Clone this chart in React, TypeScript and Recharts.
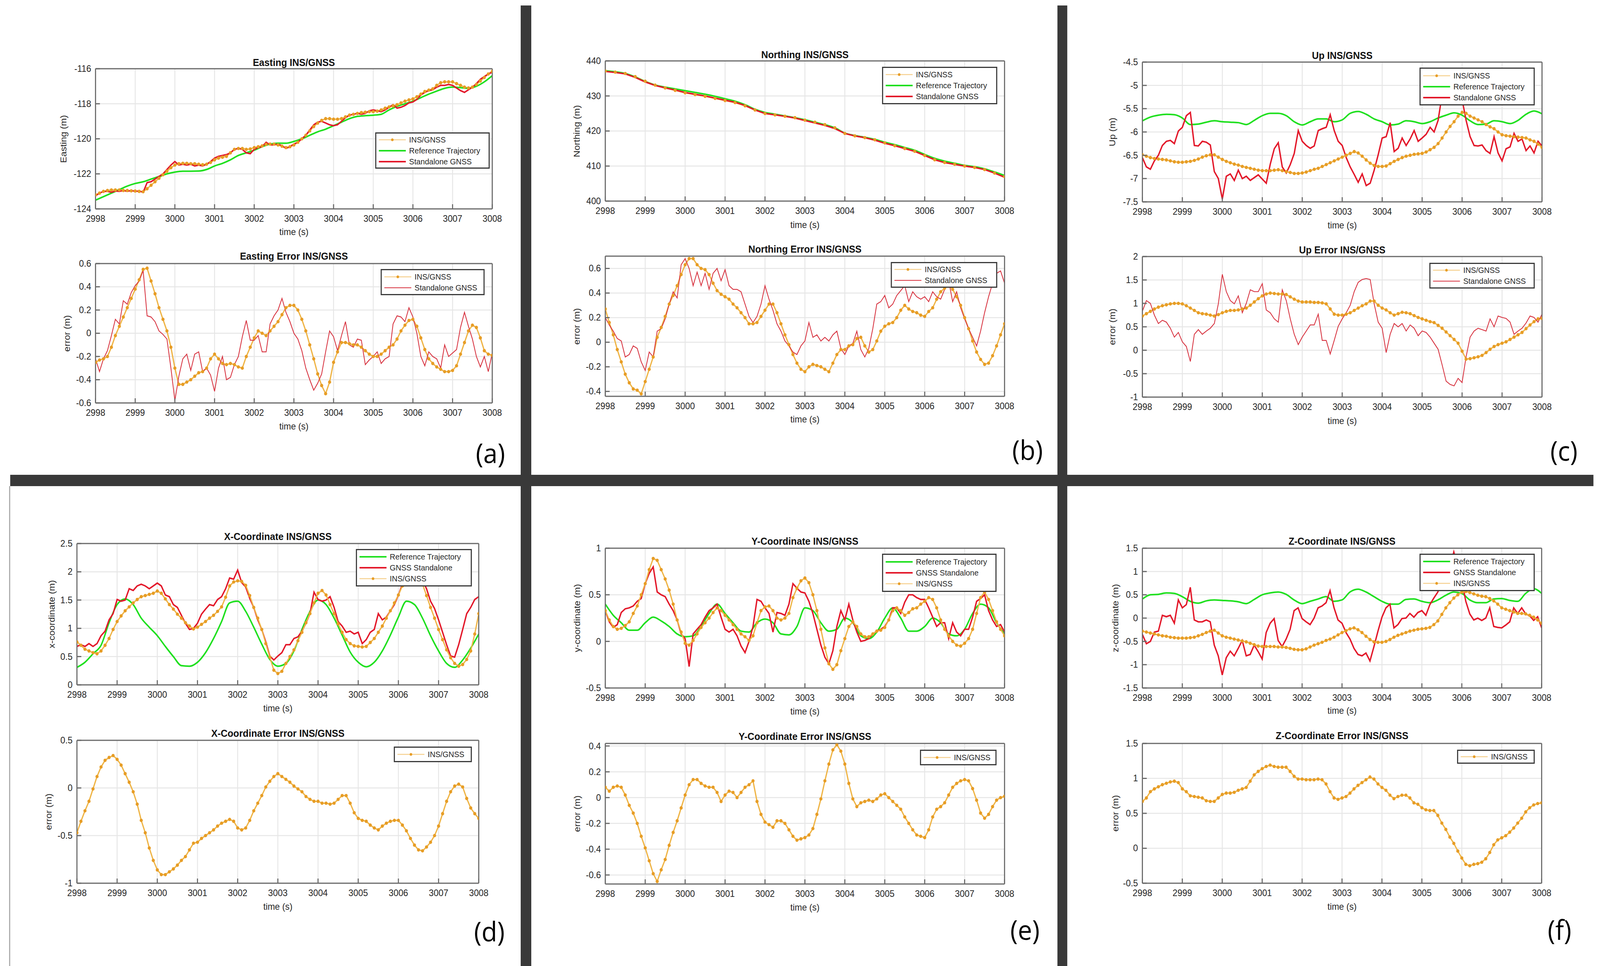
import React from 'react'
import { LineChart, Line, XAxis, YAxis, CartesianGrid } from 'recharts'

const FONT = '"Liberation Sans", Arial, Helvetica, sans-serif'
const AXIS = '#6a6a6a'
const TEXT = '#262626'
const GRID = '#e6e6e6'
const GREEN = '#1fe01f'
const RED = '#e3182a'
const RED_THIN = '#d7323f'
const ORANGE_LINE = '#efb548'
const ORANGE_DOT = '#e79d26'
const BAR = '#393939'

// the figure is laid out at 4388x2474 and scaled to whatever the window really is
const FIG_W = 4388
const FIG_H = 2474

// time grids (s)
const T10 = Array.from({ length: 101 }, (_, i) => Math.round((2998 + i * 0.1) * 10) / 10)
const T5 = Array.from({ length: 51 }, (_, i) => Math.round((2998 + i * 0.2) * 10) / 10)
const T4 = Array.from({ length: 41 }, (_, i) => 2998 + i * 0.25)
const T_TICKS = [2998, 2999, 3000, 3001, 3002, 3003, 3004, 3005, 3006, 3007, 3008]

// --- (a) Easting ---
const aTopIns = [
  -123.2, -123.1, -123.0, -122.95, -122.92, -122.92, -122.92, -122.95, -122.95, -122.97,
  -122.98, -123.0, -123.02, -122.85, -122.65, -122.45, -122.25, -122.05, -121.85, -121.65,
  -121.5, -121.42, -121.4, -121.4, -121.42, -121.42, -121.45, -121.48, -121.45, -121.35,
  -121.2, -121.1, -121.05, -121.0, -120.8, -120.6, -120.55, -120.55, -120.6, -120.58,
  -120.5, -120.45, -120.4, -120.32, -120.3, -120.3, -120.35, -120.42, -120.5, -120.45,
  -120.35, -120.2, -120.0, -119.8, -119.55, -119.3, -119.1, -118.95, -118.85, -118.85,
  -118.88, -118.88, -118.85, -118.75, -118.65, -118.6, -118.55, -118.5, -118.48, -118.45,
  -118.45, -118.42, -118.35, -118.25, -118.18, -118.12, -118.05, -117.95, -117.85, -117.78,
  -117.72, -117.6, -117.45, -117.3, -117.22, -117.15, -116.95, -116.8, -116.75, -116.75,
  -116.75, -116.85, -116.95, -117.05, -117.1, -117.05, -116.9, -116.7, -116.5, -116.3,
  -116.15,
]
const aTopGnss = [
  -123.25, -123.1, -123.0, -123.0, -123.05, -122.98, -123.0, -122.95, -123.0, -122.95,
  -123.0, -122.98, -123.05, -122.5, -122.45, -122.3, -122.15, -122.0, -121.75, -121.5,
  -121.3, -121.5, -121.45, -121.5, -121.45, -121.55, -121.5, -121.55, -121.45, -121.3,
  -121.1, -121.0, -120.95, -120.9, -120.8, -120.6, -120.55, -120.6, -120.8, -120.85,
  -120.6, -120.5, -120.45, -120.2, -120.35, -120.35, -120.3, -120.4, -120.55, -120.45,
  -120.3, -120.2, -120.0, -119.8, -119.5, -119.2, -119.05, -119.0, -119.1, -119.2,
  -119.25, -119.2, -119.0, -118.8, -118.65, -118.6, -118.55, -118.6, -118.55, -118.4,
  -118.35, -118.4, -118.45, -118.35, -118.2, -118.05, -118.25, -118.2, -118.1, -117.95,
  -117.9, -117.75, -117.5, -117.35, -117.25, -117.2, -117.05, -116.95, -116.95, -116.9,
  -116.95, -117.1, -117.25, -117.35, -117.2, -117.05, -116.85, -116.6, -116.45, -116.3,
  -116.2,
]
const aTopRef = [
  -123.5, -123.3, -123.1, -122.9, -122.7, -122.55, -122.45, -122.3, -122.15, -122.0,
  -121.9, -121.85, -121.85, -121.84, -121.75, -121.55, -121.4, -121.2, -120.95, -120.8,
  -120.65, -120.45, -120.3, -120.25, -120.25, -120.15, -120.0, -119.8, -119.6, -119.45,
  -119.25, -119.05, -118.85, -118.72, -118.68, -118.65, -118.6, -118.35, -118.15, -118.0,
  -117.85, -117.65, -117.45, -117.28, -117.12, -117.05, -117.08, -117.12, -117.0, -116.75,
  -116.4,
]
const aErrIns = [
  -0.25, -0.23, -0.22, -0.2, -0.12, -0.02, 0.06, 0.14, 0.22, 0.3,
  0.38, 0.46, 0.55, 0.56, 0.45, 0.34, 0.22, 0.12, 0.02, -0.12,
  -0.3, -0.44, -0.44, -0.42, -0.4, -0.37, -0.34, -0.33, -0.3, -0.22,
  -0.18, -0.22, -0.26, -0.27, -0.26, -0.27, -0.29, -0.3, -0.2, -0.12,
  -0.04, 0.02, 0.0, -0.02, 0.02, 0.06, 0.1, 0.16, 0.22, 0.24,
  0.24, 0.2, 0.12, 0.02, -0.1, -0.22, -0.35, -0.45, -0.52, -0.42,
  -0.25, -0.16, -0.08, -0.08, -0.09, -0.1, -0.1, -0.12, -0.15, -0.18,
  -0.2, -0.2, -0.18, -0.15, -0.12, -0.1, -0.05, 0.02, 0.07, 0.11,
  0.12, 0.06, -0.04, -0.14, -0.22, -0.26, -0.29, -0.31, -0.33, -0.33,
  -0.32, -0.28, -0.18, -0.08, 0.02, 0.07, 0.05, -0.04, -0.15, -0.18,
  -0.19,
]
const aErrGnss = [
  -0.22, -0.33, -0.22, -0.15, -0.02, 0.12, 0.08, 0.28, 0.25, 0.35,
  0.41, 0.45, 0.54, 0.15, 0.14, 0.1, 0.02, -0.01, -0.05, -0.3,
  -0.58, -0.37, -0.22, -0.18, -0.32, -0.18, -0.16, -0.33, -0.3, -0.36,
  -0.5, -0.3, -0.2, -0.4, -0.38, -0.27, -0.2, -0.03, 0.11, -0.06,
  -0.06, -0.02, -0.16, -0.16, 0.08, 0.15, 0.2, 0.3, 0.18, 0.1,
  0.0, -0.05, -0.15, -0.3, -0.4, -0.49, -0.43, -0.35, -0.16, 0.02,
  -0.03, -0.15, -0.02, 0.1, -0.1, -0.12, -0.05, -0.06, -0.27, -0.23,
  -0.2, -0.16, -0.26, -0.22, -0.2, 0.08, 0.15, 0.14, 0.1, 0.22,
  0.14, 0.0, -0.2, -0.28, -0.16, -0.2, -0.22, -0.3, -0.1, -0.2,
  -0.17, -0.14, 0.05, 0.18, 0.06, -0.05, -0.2, -0.29, -0.2, -0.33,
  -0.17,
]

// --- (b) Northing ---
const bTopIns = [
  437.1, 436.8, 436.4, 435.5, 434.2, 433.1, 432.3, 431.6, 430.9, 430.4,
  429.9, 429.3, 428.7, 428.1, 427.2, 426.0, 425.0, 424.6, 424.2, 423.8,
  423.1, 422.5, 421.8, 420.9, 419.3, 418.6, 418.1, 417.5, 416.6, 415.8,
  415.0, 414.2, 413.0, 411.8, 411.0, 410.5, 410.0, 409.6, 409.0, 408.0,
  407.0,
]
const bTopRef = [
  437.2, 436.9, 436.4, 435.4, 434.1, 433.1, 432.5, 432.0, 431.5, 431.0,
  430.5, 429.9, 429.2, 428.5, 427.5, 426.2, 425.3, 424.8, 424.3, 423.8,
  423.2, 422.5, 421.8, 420.9, 419.4, 418.7, 418.2, 417.6, 416.8, 416.1,
  415.3, 414.5, 413.3, 412.2, 411.4, 410.8, 410.2, 409.8, 409.2, 408.3,
  407.3,
]
const bTopGnss = [
  437.0, 436.7, 436.3, 435.3, 434.0, 433.0, 432.3, 431.7, 431.0, 430.5,
  430.0, 429.4, 428.8, 428.2, 427.3, 426.0, 425.0, 424.6, 424.2, 423.7,
  423.0, 422.3, 421.6, 420.7, 419.3, 418.6, 418.1, 417.4, 416.5, 415.8,
  415.0, 414.2, 413.0, 411.8, 411.0, 410.5, 410.0, 409.6, 409.0, 408.0,
  406.8,
]
const bErrIns = [
  0.27, 0.16, 0.06, -0.06, -0.16, -0.26, -0.33, -0.38, -0.39, -0.42,
  -0.32, -0.22, -0.12, 0.04, 0.12, 0.21, 0.31, 0.38, 0.46, 0.55,
  0.63, 0.68, 0.68, 0.63, 0.6, 0.59, 0.55, 0.48, 0.42, 0.39,
  0.37, 0.35, 0.31, 0.28, 0.24, 0.2, 0.15, 0.15, 0.16, 0.21,
  0.26, 0.31, 0.31, 0.24, 0.15, 0.06, -0.02, -0.1, -0.17, -0.22,
  -0.24, -0.2, -0.18, -0.19, -0.2, -0.22, -0.24, -0.17, -0.1, -0.06,
  -0.06, -0.03, -0.02, 0.03, 0.04, -0.03, -0.08, -0.06, 0.01, 0.09,
  0.13, 0.15, 0.16, 0.2, 0.26, 0.3, 0.27, 0.25, 0.24, 0.22,
  0.21, 0.25, 0.28, 0.35, 0.41, 0.44, 0.46, 0.43, 0.37, 0.3,
  0.2, 0.11, 0.01, -0.08, -0.14, -0.18, -0.17, -0.11, -0.03, 0.06,
  0.15,
]
const bErrGnss = [
  0.2, 0.14, 0.09, 0.03, 0.01, -0.12, -0.1, -0.03, -0.05, -0.16,
  -0.23, -0.08, -0.12, 0.09, 0.11, 0.19, 0.31, 0.41, 0.36, 0.63,
  0.68, 0.6, 0.46, 0.57, 0.46, 0.56, 0.43, 0.56, 0.6, 0.5,
  0.59, 0.46, 0.43, 0.43, 0.41, 0.31, 0.21, 0.16, 0.21, 0.31,
  0.46, 0.35, 0.26, 0.15, 0.09, 0.01, -0.03, -0.08, -0.1, -0.03,
  0.01, 0.16, 0.04, 0.06, 0.01, 0.04, 0.01, 0.06, 0.09, -0.05,
  -0.1, -0.03, -0.01, 0.09, -0.06, -0.12, -0.05, 0.11, 0.31, 0.33,
  0.38, 0.28, 0.31, 0.38, 0.42, 0.46, 0.33, 0.41, 0.37, 0.35,
  0.37, 0.33, 0.41, 0.37, 0.35, 0.43, 0.5, 0.33, 0.41, 0.28,
  0.19, 0.11, 0.04, -0.03, 0.09, 0.24, 0.37, 0.48, 0.56, 0.58,
  0.48,
]

// --- (c) Up ---
const cTopIns = [
  -6.49, -6.52, -6.55, -6.57, -6.58, -6.59, -6.6, -6.62, -6.64, -6.65,
  -6.65, -6.64, -6.63, -6.61, -6.58, -6.54, -6.51, -6.49, -6.49, -6.54,
  -6.59, -6.63, -6.66, -6.69, -6.71, -6.74, -6.76, -6.78, -6.8, -6.82,
  -6.83, -6.83, -6.83, -6.82, -6.81, -6.83, -6.85, -6.87, -6.89, -6.89,
  -6.88, -6.86, -6.83, -6.8, -6.78, -6.74, -6.7, -6.66, -6.62, -6.58,
  -6.54, -6.5, -6.46, -6.42, -6.45, -6.52, -6.6, -6.67, -6.72, -6.74,
  -6.74, -6.73, -6.68, -6.63, -6.59, -6.55, -6.52, -6.5, -6.48, -6.47,
  -6.46, -6.43, -6.38, -6.33, -6.25, -6.13, -6.0, -5.88, -5.78, -5.66,
  -5.58, -5.6, -5.66, -5.7, -5.74, -5.78, -5.84, -5.89, -5.93, -6.0,
  -6.06, -6.08, -6.09, -6.1, -6.11, -6.12, -6.13, -6.17, -6.2, -6.26,
  -6.33,
]
const cTopRef = [
  -5.76, -5.68, -5.64, -5.62, -5.63, -5.7, -5.84, -5.83, -5.79, -5.76,
  -5.78, -5.79, -5.8, -5.84, -5.75, -5.65, -5.6, -5.6, -5.65, -5.78,
  -5.85, -5.78, -5.72, -5.72, -5.78, -5.74, -5.6, -5.56, -5.62, -5.72,
  -5.78, -5.85, -5.83, -5.76, -5.78, -5.82, -5.78, -5.7, -5.64, -5.59,
  -5.64, -5.76, -5.84, -5.83, -5.76, -5.78, -5.82, -5.75, -5.62, -5.55,
  -5.61,
]
const cTopGnss = [
  -6.55, -6.75, -6.8, -6.62, -6.5, -6.29, -6.2, -6.18, -6.25, -5.98,
  -5.9, -5.65, -5.58, -6.29, -6.3, -6.2, -6.22, -6.28, -6.85, -7.0,
  -7.44, -6.95, -6.9, -7.04, -6.82, -7.0, -6.95, -7.04, -6.98, -6.92,
  -7.01, -7.1, -6.69, -6.36, -6.23, -6.75, -6.88, -6.7, -6.46, -5.97,
  -6.2, -6.29, -6.35, -6.3, -5.97, -5.93, -5.9, -5.63, -5.97, -6.2,
  -6.29, -6.55, -6.75, -6.91, -7.08, -6.9, -7.15, -7.1, -6.82, -6.49,
  -6.13, -6.1, -5.8, -6.42, -6.35, -6.13, -6.29, -6.15, -5.97, -6.2,
  -6.13, -6.05, -5.9, -6.0, -5.75, -5.2, -5.0, -4.9, -5.0, -5.1,
  -5.3, -5.75, -6.1, -6.29, -6.3, -6.28, -6.4, -6.46, -6.1, -6.45,
  -6.62, -6.36, -6.32, -6.03, -6.2, -6.15, -6.4, -6.3, -6.45, -6.2,
  -6.3,
]
const cErrIns = [
  0.73, 0.78, 0.83, 0.88, 0.92, 0.95, 0.97, 0.99, 1.0, 1.0,
  0.99, 0.95, 0.9, 0.85, 0.8, 0.78, 0.77, 0.75, 0.73, 0.76,
  0.8, 0.83, 0.85, 0.85, 0.86, 0.88, 0.9, 0.96, 1.03, 1.1,
  1.16, 1.2, 1.22, 1.21, 1.2, 1.2, 1.19, 1.14, 1.09, 1.05,
  1.03, 1.03, 1.03, 1.02, 1.02, 1.01, 0.99, 0.88, 0.77, 0.75,
  0.75, 0.77, 0.8, 0.85, 0.9, 0.95, 0.99, 1.05, 1.05, 0.96,
  0.9, 0.86, 0.8, 0.75, 0.78, 0.81, 0.8, 0.78, 0.74, 0.7,
  0.67, 0.64, 0.61, 0.59, 0.53, 0.47, 0.39, 0.31, 0.23, 0.15,
  -0.02, -0.19, -0.18, -0.16, -0.14, -0.11, -0.05, 0.02, 0.08, 0.12,
  0.15, 0.18, 0.23, 0.28, 0.33, 0.38, 0.46, 0.54, 0.61, 0.67,
  0.68,
]
const cErrGnss = [
  0.83, 1.06, 1.0, 0.75, 0.57, 0.64, 0.6, 0.47, 0.28, 0.38,
  0.18, 0.08, -0.24, 0.34, 0.44, 0.34, 0.41, 0.47, 0.57, 0.99,
  1.62, 1.25, 1.06, 0.99, 1.16, 0.8, 1.0, 1.29, 1.25, 1.25,
  1.42, 0.86, 0.8, 0.67, 0.6, 1.29, 1.06, 0.67, 0.34, 0.12,
  0.28, 0.41, 0.54, 0.54, 0.77, 0.21, 0.21, -0.08, 0.21, 0.51,
  0.67, 0.8, 0.96, 1.25, 1.45, 1.51, 1.53, 1.51, 0.99, 0.6,
  0.47, -0.05, 0.34, 0.57, 0.5, 0.57, 0.41, 0.54, 0.47, 0.31,
  0.41, 0.38, 0.28, 0.15, 0.02, -0.31, -0.66, -0.73, -0.76, -0.6,
  -0.69, -0.14, 0.28, 0.41, 0.47, 0.44, 0.41, 0.67, 0.5, 0.73,
  0.7, 0.68, 0.6, 0.34, 0.41, 0.47, 0.58, 0.73, 0.7, 0.6,
  0.77,
]

// --- (d) X-Coordinate ---
const dTopRef = [
  0.31, 0.4, 0.55, 0.7, 1.1, 1.42, 1.52, 1.42, 1.18, 1.02,
  0.87, 0.68, 0.5, 0.34, 0.33, 0.4, 0.57, 0.82, 1.12, 1.45,
  1.48, 1.3, 1.02, 0.72, 0.45, 0.33, 0.38, 0.6, 0.98, 1.3,
  1.5, 1.42, 1.18, 0.88, 0.58, 0.4, 0.32, 0.4, 0.6, 0.88,
  1.2, 1.48, 1.42, 1.18, 0.87, 0.6, 0.38, 0.31, 0.44, 0.65,
  0.9,
]
const dTopGnss = [
  0.68, 0.71, 0.68, 0.73, 0.68, 0.73, 0.87, 0.95, 1.15, 1.26,
  1.51, 1.48, 1.5, 1.7, 1.67, 1.75, 1.78, 1.75, 1.7, 1.75,
  1.8, 1.75, 1.59, 1.56, 1.42, 1.37, 1.23, 1.09, 0.98, 1.0,
  1.09, 1.25, 1.34, 1.42, 1.4, 1.51, 1.56, 1.7, 1.89, 1.87,
  2.03, 1.81, 1.73, 1.53, 1.37, 1.15, 0.98, 0.76, 0.51, 0.44,
  0.51, 0.57, 0.71, 0.71, 0.82, 0.85, 0.95, 1.09, 1.26, 1.64,
  1.51, 1.48, 1.5, 1.56, 1.37, 1.12, 1.04, 0.93, 0.95, 0.9,
  0.93, 0.73, 0.8, 0.93, 0.98, 1.26, 1.15, 1.2, 1.31, 1.42,
  1.59, 1.78, 1.95, 2.05, 2.1, 2.0, 1.85, 1.7, 1.48, 1.35,
  1.15, 0.93, 0.71, 0.51, 0.49, 0.71, 0.98, 1.26, 1.37, 1.51,
  1.56,
]
const dTopIns = [
  0.76, 0.7, 0.63, 0.6, 0.57, 0.55, 0.6, 0.7, 0.82, 0.98,
  1.12, 1.22, 1.31, 1.38, 1.45, 1.51, 1.56, 1.58, 1.6, 1.62,
  1.66, 1.62, 1.52, 1.42, 1.34, 1.25, 1.18, 1.1, 1.04, 0.99,
  1.02, 1.07, 1.12, 1.18, 1.23, 1.3, 1.38, 1.55, 1.75, 1.82,
  1.84, 1.83, 1.76, 1.58, 1.37, 1.18, 0.98, 0.73, 0.49, 0.26,
  0.2, 0.24, 0.38, 0.5, 0.62, 0.78, 0.93, 1.1, 1.26, 1.45,
  1.62, 1.67, 1.59, 1.42, 1.26, 1.08, 0.93, 0.8, 0.73, 0.69,
  0.68, 0.67, 0.68, 0.75, 0.82, 0.93, 1.04, 1.18, 1.31, 1.45,
  1.59, 1.75, 1.9, 1.98, 2.0, 1.92, 1.78, 1.58, 1.37, 1.18,
  0.98, 0.8, 0.62, 0.48, 0.38, 0.33, 0.36, 0.45, 0.6, 0.9,
  1.26,
]
const dErrIns = [
  -0.47, -0.35, -0.24, -0.14, -0.01, 0.12, 0.22, 0.29, 0.32, 0.34,
  0.3, 0.24, 0.15, 0.06, -0.04, -0.17, -0.34, -0.47, -0.63, -0.76,
  -0.86, -0.91, -0.91, -0.88, -0.85, -0.81, -0.76, -0.72, -0.65, -0.58,
  -0.57, -0.53, -0.5, -0.47, -0.44, -0.4, -0.37, -0.35, -0.33, -0.35,
  -0.42, -0.44, -0.42, -0.34, -0.24, -0.16, -0.08, 0.01, 0.07, 0.12,
  0.15, 0.12, 0.09, 0.06, 0.02, -0.01, -0.04, -0.09, -0.12, -0.14,
  -0.14, -0.16, -0.16, -0.17, -0.16, -0.12, -0.08, -0.08, -0.16, -0.26,
  -0.32, -0.34, -0.35, -0.39, -0.42, -0.44, -0.4, -0.37, -0.35, -0.34,
  -0.34, -0.39, -0.45, -0.53, -0.6, -0.65, -0.66, -0.62, -0.57, -0.5,
  -0.4, -0.27, -0.14, -0.04, 0.02, 0.04, 0.01, -0.11, -0.21, -0.27,
  -0.32,
]

// --- (e) Y-Coordinate ---
const eTopRef = [
  0.4, 0.28, 0.2, 0.12, 0.12, 0.2, 0.26, 0.22, 0.16, 0.08,
  0.05, 0.06, 0.16, 0.3, 0.4, 0.3, 0.2, 0.11, 0.1, 0.2,
  0.24, 0.2, 0.08, 0.07, 0.16, 0.36, 0.33, 0.2, 0.11, 0.13,
  0.25, 0.2, 0.06, 0.03, 0.1, 0.25, 0.36, 0.25, 0.11, 0.11,
  0.16, 0.25, 0.2, 0.08, 0.06, 0.13, 0.3, 0.4, 0.36, 0.2,
  0.08,
]
const eTopGnss = [
  0.33, 0.21, 0.15, 0.18, 0.31, 0.35, 0.36, 0.38, 0.43, 0.46,
  0.62, 0.73, 0.8, 0.53, 0.5, 0.48, 0.4, 0.33, 0.23, 0.08,
  0.03, -0.27, 0.08, 0.13, 0.18, 0.26, 0.33, 0.36, 0.4, 0.26,
  0.13, 0.1, 0.13, 0.06, -0.05, -0.12, 0.0, 0.16, 0.45, 0.43,
  0.36, 0.3, 0.1, 0.31, 0.3, 0.28, 0.4, 0.62, 0.57, 0.53,
  0.52, 0.43, 0.3, 0.13, -0.04, -0.17, -0.24, -0.1, 0.16, 0.33,
  0.23, 0.4, 0.23, 0.1, 0.0, 0.01, 0.03, 0.08, 0.11, 0.13,
  0.16, 0.23, 0.36, 0.36, 0.3, 0.42, 0.5, 0.5, 0.47, 0.45,
  0.45, 0.36, 0.26, 0.16, 0.2, 0.2, 0.03, 0.2, 0.1, 0.06,
  0.13, 0.13, 0.26, 0.43, 0.46, 0.5, 0.33, 0.23, 0.16, 0.18,
  0.1,
]
const eTopIns = [
  0.33, 0.23, 0.16, 0.13, 0.14, 0.17, 0.21, 0.3, 0.38, 0.5,
  0.62, 0.77, 0.89, 0.87, 0.77, 0.67, 0.55, 0.4, 0.23, 0.1,
  -0.02, -0.04, 0.01, 0.08, 0.15, 0.2, 0.25, 0.31, 0.36, 0.33,
  0.28, 0.23, 0.18, 0.13, 0.08, 0.05, 0.01, 0.06, 0.2, 0.33,
  0.37, 0.38, 0.33, 0.25, 0.23, 0.25, 0.3, 0.47, 0.57, 0.65,
  0.68, 0.63, 0.5, 0.33, 0.13, -0.07, -0.24, -0.3, -0.25, -0.1,
  0.03, 0.16, 0.21, 0.16, 0.08, 0.05, 0.05, 0.08, 0.11, 0.12,
  0.15, 0.23, 0.33, 0.36, 0.33, 0.28, 0.31, 0.35, 0.36, 0.4,
  0.43, 0.47, 0.45, 0.36, 0.23, 0.13, 0.06, 0.0, -0.04, -0.05,
  -0.02, 0.03, 0.13, 0.3, 0.47, 0.53, 0.45, 0.33, 0.21, 0.13,
  0.06,
]
const eErrIns = [
  0.08, 0.05, 0.08, 0.09, 0.08, 0.02, -0.06, -0.12, -0.2, -0.3,
  -0.39, -0.49, -0.59, -0.65, -0.56, -0.48, -0.37, -0.27, -0.18, -0.08,
  0.02, 0.1, 0.14, 0.14, 0.11, 0.09, 0.08, 0.08, 0.04, -0.03,
  0.02, 0.05, 0.04, 0.0, 0.04, 0.08, 0.1, 0.13, -0.03, -0.13,
  -0.19, -0.21, -0.23, -0.18, -0.18, -0.2, -0.25, -0.3, -0.33, -0.32,
  -0.31, -0.29, -0.24, -0.13, -0.01, 0.13, 0.26, 0.37, 0.41, 0.36,
  0.26, 0.11, -0.01, -0.07, -0.04, -0.03, -0.02, -0.03, -0.01, 0.02,
  0.03, 0.0, -0.03, -0.06, -0.09, -0.15, -0.2, -0.25, -0.29, -0.3,
  -0.31, -0.25, -0.15, -0.09, -0.07, -0.04, 0.02, 0.08, 0.11, 0.13,
  0.14, 0.13, 0.07, -0.02, -0.12, -0.16, -0.13, -0.07, -0.02, 0.0,
  0.01,
]

// --- (f) Z-Coordinate ---
const fTopRef = [
  0.41, 0.5, 0.51, 0.54, 0.53, 0.46, 0.36, 0.32, 0.37, 0.39,
  0.38, 0.37, 0.35, 0.31, 0.4, 0.5, 0.54, 0.56, 0.51, 0.39,
  0.31, 0.36, 0.41, 0.46, 0.36, 0.39, 0.56, 0.62, 0.56, 0.46,
  0.36, 0.3, 0.3, 0.4, 0.41, 0.36, 0.33, 0.39, 0.49, 0.56,
  0.53, 0.39, 0.33, 0.33, 0.41, 0.42, 0.38, 0.36, 0.53, 0.63,
  0.53,
]
const fTopGnss = [
  -0.35, -0.55, -0.5, -0.3, -0.28, 0.06, 0.03, 0.06, -0.11, 0.39,
  0.22, 0.29, 0.66, -0.04, -0.08, -0.08, -0.04, -0.08, -0.58, -0.81,
  -1.22, -0.85, -0.71, -0.81, -0.65, -0.48, -0.81, -0.78, -0.58, -0.72,
  -0.88, -0.31, -0.11, -0.01, -0.48, -0.61, -0.45, -0.24, 0.16, 0.22,
  -0.01, -0.08, -0.14, 0.0, 0.22, 0.26, 0.33, 0.59, 0.22, -0.04,
  -0.11, -0.31, -0.45, -0.65, -0.78, -0.81, -0.75, -0.92, -0.61, -0.28,
  0.02, 0.22, 0.3, -0.21, -0.14, -0.01, 0.0, 0.1, 0.02, 0.12,
  0.16, 0.06, 0.29, 0.43, 0.56, 0.8, 0.95, 1.1, 1.42, 1.1,
  0.8, 0.36, 0.09, -0.04, 0.0, -0.05, 0.0, 0.22, -0.18, -0.2,
  -0.21, -0.15, -0.08, 0.22, 0.1, 0.22, 0.09, 0.05, -0.05, 0.03,
  -0.21,
]
const fTopIns = [
  -0.28, -0.3, -0.32, -0.34, -0.36, -0.38, -0.39, -0.41, -0.42, -0.43,
  -0.43, -0.43, -0.42, -0.41, -0.38, -0.35, -0.31, -0.28, -0.26, -0.32,
  -0.38, -0.41, -0.43, -0.45, -0.47, -0.49, -0.51, -0.54, -0.57, -0.6,
  -0.61, -0.61, -0.61, -0.61, -0.62, -0.62, -0.63, -0.65, -0.67, -0.68,
  -0.68, -0.66, -0.62, -0.58, -0.55, -0.52, -0.48, -0.45, -0.41, -0.36,
  -0.31, -0.27, -0.23, -0.21, -0.25, -0.31, -0.39, -0.46, -0.51, -0.52,
  -0.52, -0.5, -0.46, -0.41, -0.37, -0.34, -0.31, -0.28, -0.26, -0.24,
  -0.23, -0.22, -0.2, -0.14, -0.06, 0.08, 0.22, 0.33, 0.43, 0.5,
  0.56, 0.57, 0.55, 0.52, 0.49, 0.47, 0.46, 0.42, 0.37, 0.3,
  0.22, 0.19, 0.16, 0.13, 0.1, 0.1, 0.09, 0.06, 0.02, -0.04,
  -0.11,
]
const fErrIns = [
  0.67, 0.72, 0.81, 0.85, 0.88, 0.91, 0.93, 0.95, 0.96, 0.94,
  0.85, 0.81, 0.75, 0.74, 0.73, 0.72, 0.68, 0.67, 0.67, 0.72,
  0.77, 0.79, 0.79, 0.8, 0.83, 0.85, 0.87, 0.96, 1.05, 1.1,
  1.14, 1.17, 1.19, 1.17, 1.16, 1.16, 1.16, 1.1, 1.03, 0.99,
  0.99, 0.98, 0.98, 0.98, 0.99, 0.98, 0.92, 0.81, 0.72, 0.7,
  0.72, 0.74, 0.79, 0.85, 0.9, 0.94, 0.98, 1.02, 0.99, 0.92,
  0.87, 0.83, 0.76, 0.71, 0.74, 0.76, 0.76, 0.72, 0.65, 0.63,
  0.58, 0.55, 0.54, 0.54, 0.47, 0.36, 0.27, 0.16, 0.07, -0.04,
  -0.14, -0.23, -0.25, -0.23, -0.22, -0.2, -0.15, -0.06, 0.05, 0.12,
  0.15, 0.18, 0.23, 0.29, 0.36, 0.43, 0.52, 0.58, 0.62, 0.64,
  0.65,
]

type Kind = 'ins' | 'ref' | 'gnss' | 'gnssThin'
type Series = { kind: Kind; t: number[]; v: number[] }
type Box = { l: number; r: number; t: number; b: number }
type Spec = {
  box: Box
  yDomain: [number, number]
  yTicks: number[]
  title: string
  titleY: number
  yLabel: string
  yLabelX: number
  xLabelY: number
  series: Series[]
  legend: Box & { items: [string, Kind][] }
}

const s = (kind: Kind, v: number[], t: number[] = T10): Series => ({ kind, t, v })
const pts = (t: number[], v: number[]) => v.map((y, i) => ({ t: t[i], v: y }))

const SPECS: Spec[] = [
  {
    box: { l: 262, r: 1350, t: 176, b: 535 }, yDomain: [-124, -116], yTicks: [-124, -122, -120, -118, -116],
    title: 'Easting INS/GNSS', titleY: 160, yLabel: 'Easting (m)', yLabelX: 174, xLabelY: 594,
    series: [s('ins', aTopIns), s('ref', aTopRef, T5), s('gnss', aTopGnss)],
    legend: { l: 1029, t: 339, r: 1343, b: 432, items: [['INS/GNSS', 'ins'], ['Reference Trajectory', 'ref'], ['Standalone GNSS', 'gnss']] },
  },
  {
    box: { l: 262, r: 1350, t: 675, b: 1032 }, yDomain: [-0.6, 0.6], yTicks: [-0.6, -0.4, -0.2, 0, 0.2, 0.4, 0.6],
    title: 'Easting Error INS/GNSS', titleY: 656, yLabel: 'error (m)', yLabelX: 184, xLabelY: 1092,
    series: [s('ins', aErrIns), s('gnssThin', aErrGnss)],
    legend: { l: 1044, t: 689, r: 1329, b: 756, items: [['INS/GNSS', 'ins'], ['Standalone GNSS', 'gnssThin']] },
  },
  {
    box: { l: 1660, r: 2755, t: 156, b: 515 }, yDomain: [400, 440], yTicks: [400, 410, 420, 430, 440],
    title: 'Northing INS/GNSS', titleY: 140, yLabel: 'Northing (m)', yLabelX: 1582, xLabelY: 576,
    series: [s('ins', bTopIns, T4), s('ref', bTopRef, T4), s('gnss', bTopGnss, T4)],
    legend: { l: 2419, t: 171, r: 2735, b: 267, items: [['INS/GNSS', 'ins'], ['Reference Trajectory', 'ref'], ['Standalone GNSS', 'gnss']] },
  },
  {
    box: { l: 1660, r: 2755, t: 656, b: 1015 }, yDomain: [-0.44, 0.7], yTicks: [-0.4, -0.2, 0, 0.2, 0.4, 0.6],
    title: 'Northing Error INS/GNSS', titleY: 638, yLabel: 'error (m)', yLabelX: 1582, xLabelY: 1074,
    series: [s('ins', bErrIns), s('gnssThin', bErrGnss)],
    legend: { l: 2443, t: 671, r: 2735, b: 737, items: [['INS/GNSS', 'ins'], ['Standalone GNSS', 'gnssThin']] },
  },
  {
    box: { l: 3133, r: 4229, t: 159, b: 517 }, yDomain: [-7.5, -4.5], yTicks: [-7.5, -7, -6.5, -6, -5.5, -5, -4.5],
    title: 'Up INS/GNSS', titleY: 142, yLabel: 'Up (m)', yLabelX: 3051, xLabelY: 577,
    series: [s('ins', cTopIns), s('ref', cTopRef, T5), s('gnss', cTopGnss)],
    legend: { l: 3893, t: 173, r: 4209, b: 270, items: [['INS/GNSS', 'ins'], ['Reference Trajectory', 'ref'], ['Standalone GNSS', 'gnss']] },
  },
  {
    box: { l: 3133, r: 4229, t: 657, b: 1017 }, yDomain: [-1, 2], yTicks: [-1, -0.5, 0, 0.5, 1, 1.5, 2],
    title: 'Up Error INS/GNSS', titleY: 640, yLabel: 'error (m)', yLabelX: 3051, xLabelY: 1078,
    series: [s('ins', cErrIns), s('gnssThin', cErrGnss)],
    legend: { l: 3920, t: 673, r: 4209, b: 739, items: [['INS/GNSS', 'ins'], ['Standalone GNSS', 'gnssThin']] },
  },
  {
    box: { l: 211, r: 1313, t: 1392, b: 1754 }, yDomain: [0, 2.5], yTicks: [0, 0.5, 1, 1.5, 2, 2.5],
    title: 'X-Coordinate INS/GNSS', titleY: 1374, yLabel: 'x-coordinate (m)', yLabelX: 142, xLabelY: 1814,
    series: [s('ref', dTopRef, T5), s('gnss', dTopGnss), s('ins', dTopIns)],
    legend: { l: 976, t: 1406, r: 1294, b: 1502, items: [['Reference Trajectory', 'ref'], ['GNSS Standalone', 'gnss'], ['INS/GNSS', 'ins']] },
  },
  {
    box: { l: 211, r: 1313, t: 1896, b: 2262 }, yDomain: [-1, 0.5], yTicks: [-1, -0.5, 0, 0.5],
    title: 'X-Coordinate Error INS/GNSS', titleY: 1878, yLabel: 'error (m)', yLabelX: 133, xLabelY: 2322,
    series: [s('ins', dErrIns)],
    legend: { l: 1080, t: 1912, r: 1294, b: 1952, items: [['INS/GNSS', 'ins']] },
  },
  {
    box: { l: 1660, r: 2755, t: 1404, b: 1762 }, yDomain: [-0.5, 1], yTicks: [-0.5, 0, 0.5, 1],
    title: 'Y-Coordinate INS/GNSS', titleY: 1386, yLabel: 'y-coordinate (m)', yLabelX: 1583, xLabelY: 1822,
    series: [s('ref', eTopRef, T5), s('gnss', eTopGnss), s('ins', eTopIns)],
    legend: { l: 2419, t: 1418, r: 2733, b: 1516, items: [['Reference Trajectory', 'ref'], ['GNSS Standalone', 'gnss'], ['INS/GNSS', 'ins']] },
  },
  {
    box: { l: 1660, r: 2755, t: 1904, b: 2264 }, yDomain: [-0.67, 0.42], yTicks: [-0.6, -0.4, -0.2, 0, 0.2, 0.4],
    title: 'Y-Coordinate Error INS/GNSS', titleY: 1886, yLabel: 'error (m)', yLabelX: 1583, xLabelY: 2324,
    series: [s('ins', eErrIns)],
    legend: { l: 2523, t: 1920, r: 2733, b: 1960, items: [['INS/GNSS', 'ins']] },
  },
  {
    box: { l: 3133, r: 4228, t: 1404, b: 1762 }, yDomain: [-1.5, 1.5], yTicks: [-1.5, -1, -0.5, 0, 0.5, 1, 1.5],
    title: 'Z-Coordinate INS/GNSS', titleY: 1386, yLabel: 'z-coordinate (m)', yLabelX: 3059, xLabelY: 1820,
    series: [s('ref', fTopRef, T5), s('gnss', fTopGnss), s('ins', fTopIns)],
    legend: { l: 3893, t: 1418, r: 4209, b: 1514, items: [['Reference Trajectory', 'ref'], ['GNSS Standalone', 'gnss'], ['INS/GNSS', 'ins']] },
  },
  {
    box: { l: 3133, r: 4228, t: 1904, b: 2262 }, yDomain: [-0.5, 1.5], yTicks: [-0.5, 0, 0.5, 1, 1.5],
    title: 'Z-Coordinate Error INS/GNSS', titleY: 1884, yLabel: 'error (m)', yLabelX: 3059, xLabelY: 2322,
    series: [s('ins', fErrIns)],
    legend: { l: 3996, t: 1920, r: 4209, b: 1956, items: [['INS/GNSS', 'ins']] },
  },
]

const PANEL_LABELS: [string, number, number][] = [
  ['(a)', 1345, 1159], ['(b)', 2818, 1151], ['(c)', 4289, 1153],
  ['(d)', 1342, 2384], ['(e)', 2811, 2380], ['(f)', 4277, 2380],
]

// space round each plot box inside its svg (keeps edge tick labels from being clipped)
const PL = 130
const PR = 44
const PT = 30
const PB = 50

function BottomTick(p: any) {
  const { x, y, payload } = p
  return (
    <g>
      <line x1={x} x2={x} y1={y} y2={y - 12} stroke={AXIS} strokeWidth={3} />
      <text x={x} y={y + 33} textAnchor="middle" fontSize={24} fill={TEXT} fontFamily={FONT}>
        {payload.value}
      </text>
    </g>
  )
}

function LeftTick(p: any) {
  const { x, y, payload } = p
  return (
    <g>
      <line x1={x} x2={x + 12} y1={y} y2={y} stroke={AXIS} strokeWidth={3} />
      <text x={x - 12} y={y + 8} textAnchor="end" fontSize={24} fill={TEXT} fontFamily={FONT}>
        {payload.value}
      </text>
    </g>
  )
}

function renderLine(sr: Series, i: number) {
  const data = pts(sr.t, sr.v)
  const common = { key: i, data, dataKey: 'v', isAnimationActive: false, activeDot: false as const }
  if (sr.kind === 'ins') {
    return <Line {...common} type="linear" stroke={ORANGE_LINE} strokeWidth={3.5}
      dot={{ r: 4.3, fill: ORANGE_DOT, stroke: 'none' }} />
  }
  if (sr.kind === 'ref') {
    return <Line {...common} type="monotone" stroke={GREEN} strokeWidth={4} dot={false} />
  }
  if (sr.kind === 'gnss') {
    return <Line {...common} type="linear" stroke={RED} strokeWidth={3.8} dot={false} />
  }
  return <Line {...common} type="linear" stroke={RED_THIN} strokeWidth={2.2} dot={false} />
}

function LegendBox({ box }: { box: Spec['legend'] }) {
  return (
    <div style={{
      position: 'absolute', left: box.l, top: box.t, width: box.r - box.l, height: box.b - box.t,
      border: '3px solid #3a3a3a', background: '#fff', boxSizing: 'border-box',
      display: 'flex', flexDirection: 'column', justifyContent: 'center',
    }}>
      {box.items.map(([name, kind]) => (
        <div key={name} style={{ display: 'flex', alignItems: 'center', height: 28 }}>
          <svg width={88} height={28} style={{ flex: 'none' }}>
            <line x1={7} x2={81} y1={14} y2={14}
              stroke={kind === 'ins' ? '#f5d08e' : kind === 'ref' ? GREEN : kind === 'gnss' ? RED : RED_THIN}
              strokeWidth={kind === 'gnssThin' ? 2.2 : kind === 'ins' ? 2.5 : 4} />
            {kind === 'ins' && <circle cx={44} cy={14} r={3.5} fill={ORANGE_DOT} />}
          </svg>
          <span style={{ marginLeft: 2, fontSize: 21, fontFamily: FONT, color: TEXT, whiteSpace: 'nowrap' }}>{name}</span>
        </div>
      ))}
    </div>
  )
}

function Plot({ spec }: { spec: Spec }) {
  const { l, r, t, b } = spec.box
  const w = r - l + PL + PR
  const h = b - t + PT + PB
  const cx = (l + r) / 2
  const txt = { position: 'absolute' as const, fontFamily: FONT, color: TEXT, whiteSpace: 'nowrap' as const }
  return (
    <>
      <div style={{ position: 'absolute', left: l - PL, top: t - PT, width: w, height: h }}>
        <LineChart width={w} height={h} margin={{ top: PT, right: PR, bottom: 0, left: 0 }}>
          <CartesianGrid stroke={GRID} strokeWidth={2.5} />
          <XAxis dataKey="t" type="number" domain={[2998, 3008]} ticks={T_TICKS} allowDataOverflow
            interval={0} height={PB} tickSize={0} tickMargin={0} tickLine={false}
            axisLine={{ stroke: AXIS, strokeWidth: 3 }} tick={(p: any) => <BottomTick {...p} />} />
          <YAxis type="number" domain={spec.yDomain} ticks={spec.yTicks} allowDataOverflow
            interval={0} width={PL} tickSize={0} tickMargin={0} tickLine={false}
            axisLine={{ stroke: AXIS, strokeWidth: 3 }} tick={(p: any) => <LeftTick {...p} />} />
          <XAxis xAxisId="top" orientation="top" mirror type="number" domain={[2998, 3008]} ticks={T_TICKS}
            allowDataOverflow interval={0} height={20} tick={false} tickSize={12}
            tickLine={{ stroke: AXIS, strokeWidth: 3 }} axisLine={{ stroke: AXIS, strokeWidth: 3 }} />
          <YAxis yAxisId="right" orientation="right" mirror type="number" domain={spec.yDomain} ticks={spec.yTicks}
            allowDataOverflow interval={0} width={20} tick={false} tickSize={12}
            tickLine={{ stroke: AXIS, strokeWidth: 3 }} axisLine={{ stroke: AXIS, strokeWidth: 3 }} />
          {spec.series.map(renderLine)}
        </LineChart>
      </div>
      <div style={{ ...txt, left: cx, top: spec.titleY, transform: 'translate(-50%, -50%)', fontSize: 26, fontWeight: 700, color: '#111' }}>
        {spec.title}
      </div>
      <div style={{ ...txt, left: cx, top: spec.xLabelY, transform: 'translate(-50%, -50%)', fontSize: 24 }}>
        time (s)
      </div>
      <div style={{ ...txt, left: spec.yLabelX, top: (t + b) / 2, transform: 'translate(-50%, -50%) rotate(-90deg)', fontSize: 24 }}>
        {spec.yLabel}
      </div>
      <LegendBox box={spec.legend} />
    </>
  )
}

export default function App() {
  // the browser may give a narrower viewport than asked for; fit the whole figure into it
  const sx = Math.min(1, window.innerWidth / FIG_W)
  const sy = Math.min(1, window.innerHeight / FIG_H)
  const bar = (left: number, top: number, width: number, height: number) => (
    <div style={{ position: 'absolute', left, top, width, height, background: BAR }} />
  )
  return (
    <>
      <style>{'html, body { margin: 0; overflow: hidden; background: #fff; }'}</style>
      <div style={{
        position: 'absolute', left: 0, top: 0, width: FIG_W, height: FIG_H, background: '#fff',
        overflow: 'hidden', transform: `scale(${sx}, ${sy})`, transformOrigin: '0 0',
      }}>
        {bar(1428, 14, 29, 1204)}
        {bar(2900, 14, 27, 1204)}
        {bar(28, 1216, 4342, 29)}
        {bar(1428, 1245, 29, 1229)}
        {bar(2900, 1245, 27, 1229)}
        <div style={{ position: 'absolute', left: 25, top: 1245, width: 3, height: 1229, background: '#a8a8a8' }} />
        {SPECS.map((spec, i) => <Plot key={i} spec={spec} />)}
        {PANEL_LABELS.map(([txt, x, y]) => (
          <div key={txt} style={{
            position: 'absolute', left: x, top: y, transform: 'translate(-50%, -50%)',
            fontFamily: '"Open Sans", "Noto Sans", sans-serif', fontSize: 70, color: '#000', lineHeight: 1,
          }}>{txt}</div>
        ))}
      </div>
    </>
  )
}
